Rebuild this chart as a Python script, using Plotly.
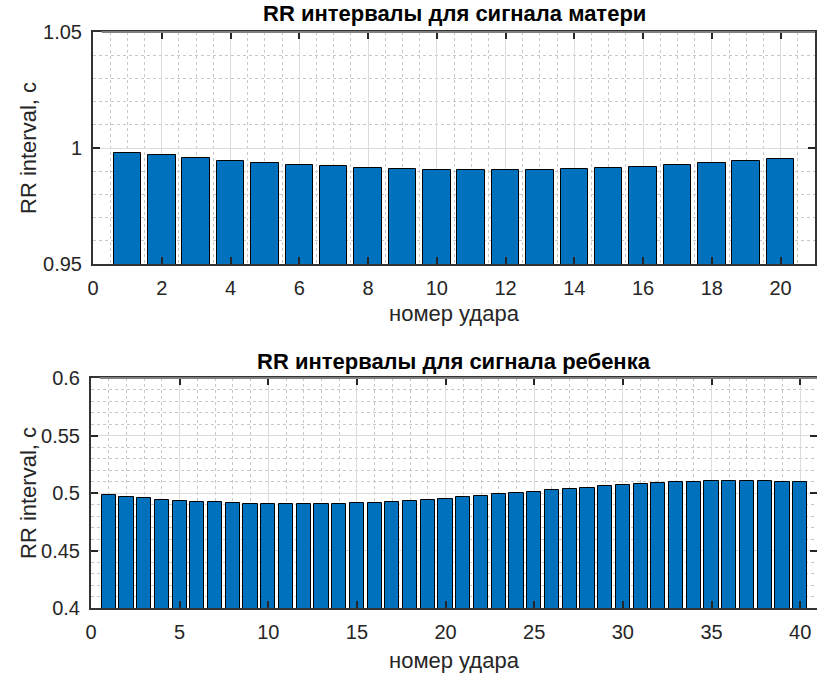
import plotly.graph_objects as go

W, H = 817, 675

mother_beats = list(range(1, 21))
mother_rr = [0.9978, 0.9968, 0.9956, 0.9945, 0.9935, 0.9928, 0.9921, 0.9914, 0.9909, 0.9907,
             0.9904, 0.9904, 0.9906, 0.9908, 0.9912, 0.9918, 0.9927, 0.9934, 0.9944, 0.9953]

child_beats = list(range(1, 41))
child_rr = [0.4980, 0.4965, 0.4954, 0.4942, 0.4933, 0.4925, 0.4919, 0.4913, 0.4907, 0.4904,
            0.4901, 0.4901, 0.4903, 0.4904, 0.4910, 0.4916, 0.4924, 0.4930, 0.4939, 0.4951,
            0.4962, 0.4974, 0.4988, 0.4997, 0.5012, 0.5024, 0.5035, 0.5047, 0.5058, 0.5070,
            0.5079, 0.5088, 0.5093, 0.5099, 0.5102, 0.5105, 0.5105, 0.5102, 0.5099, 0.5093]

title_top = "RR интервалы для сигнала матери"
title_bottom = "RR интервалы для сигнала ребенка"
xlabel = "номер удара"
ylabel = "RR interval, c"

FONT = "Liberation Sans, Arial, sans-serif"
BAR = "#0072BD"
TXT = "#262626"

def px_x(p):
    return p / W

def px_y(p):
    return 1 - p / H

fig = go.Figure()
fig.add_trace(go.Bar(x=mother_beats, y=mother_rr, width=0.8, marker=dict(color=BAR, line=dict(color="#000000", width=1)),
                     xaxis="x", yaxis="y", showlegend=False))
fig.add_trace(go.Bar(x=child_beats, y=child_rr, width=0.8, marker=dict(color=BAR, line=dict(color="#000000", width=1)),
                     xaxis="x2", yaxis="y2", showlegend=False))

common_axis = dict(
    automargin=False,
    showline=True, linecolor="#333333", linewidth=2, mirror="ticks",
    ticks="inside", ticklen=7, tickwidth=2, tickcolor="#262626",
    showgrid=True, gridcolor="#dcdcdc", gridwidth=1,
    zeroline=False, tickfont=dict(family=FONT, size=20, color=TXT),
    ticklabelstandoff=5,
)

top_dom_x = [px_x(93), px_x(815)]
top_dom_y = [px_y(264), px_y(32)]
bot_dom_x = [px_x(91), 1.0]
bot_dom_y = [px_y(608), px_y(378)]

fig.update_layout(
    width=W, height=H,
    margin=dict(l=0, r=0, t=0, b=0, pad=0),
    paper_bgcolor="white", plot_bgcolor="white",
    bargap=0,
    xaxis=dict(common_axis, domain=top_dom_x, range=[0, 21], tickvals=[0, 2, 4, 6, 8, 10, 12, 14, 16, 18, 20],
               minor=dict(dtick=0.5, tick0=0, showgrid=True, gridcolor="#c8c8c8", griddash="dot", ticks=""),
               anchor="y"),
    yaxis=dict(common_axis, domain=top_dom_y, range=[0.95, 1.05], tickvals=[0.95, 1.0, 1.05],
               ticktext=["0.95", "1", "1.05"],
               minor=dict(dtick=0.01, tick0=0.95, showgrid=True, gridcolor="#c8c8c8", griddash="dot", ticks=""),
               anchor="x"),
    xaxis2=dict(common_axis, domain=bot_dom_x, range=[0, 40.95], tickvals=[0, 5, 10, 15, 20, 25, 30, 35, 40],
                minor=dict(dtick=1, tick0=0, showgrid=True, gridcolor="#c8c8c8", griddash="dot", ticks=""),
                anchor="y2"),
    yaxis2=dict(common_axis, domain=bot_dom_y, range=[0.4, 0.6], tickvals=[0.4, 0.45, 0.5, 0.55, 0.6],
                ticktext=["0.4", "0.45", "0.5", "0.55", "0.6"],
                minor=dict(dtick=0.01, tick0=0.4, showgrid=True, gridcolor="#c8c8c8", griddash="dot", ticks=""),
                anchor="x2"),
)

# lighter top box edges, as in the reference
shapes = []
for xr, yr in (("x domain", "y domain"), ("x2 domain", "y2 domain")):
    shapes.append(dict(type="line", xref=xr, yref=yr, x0=0.012, x1=1, y0=1, y1=1,
                       line=dict(color="#808080", width=2), layer="above"))
fig.update_layout(shapes=shapes)

ann = []
# titles
ann.append(dict(text="<b>" + title_top + "</b>", x=px_x(454), y=px_y(14), xref="paper", yref="paper",
                showarrow=False, font=dict(family=FONT, size=22, color="#000000"), xanchor="center", yanchor="middle"))
ann.append(dict(text="<b>" + title_bottom + "</b>", x=px_x(454), y=px_y(361), xref="paper", yref="paper",
                showarrow=False, font=dict(family=FONT, size=22, color="#000000"), xanchor="center", yanchor="middle"))
# x labels
ann.append(dict(text=xlabel, x=px_x(454), y=px_y(313), xref="paper", yref="paper",
                showarrow=False, font=dict(family=FONT, size=22, color=TXT), xanchor="center", yanchor="middle"))
ann.append(dict(text=xlabel, x=px_x(454), y=px_y(660), xref="paper", yref="paper",
                showarrow=False, font=dict(family=FONT, size=22, color=TXT), xanchor="center", yanchor="middle"))
# y labels
ann.append(dict(text=ylabel, x=px_x(28), y=px_y(148), xref="paper", yref="paper", textangle=-90,
                showarrow=False, font=dict(family=FONT, size=22, color=TXT), xanchor="center", yanchor="middle"))
ann.append(dict(text=ylabel, x=px_x(28), y=px_y(493), xref="paper", yref="paper", textangle=-90,
                showarrow=False, font=dict(family=FONT, size=22, color=TXT), xanchor="center", yanchor="middle"))
fig.update_layout(annotations=ann)

fig.write_html("out.html")
